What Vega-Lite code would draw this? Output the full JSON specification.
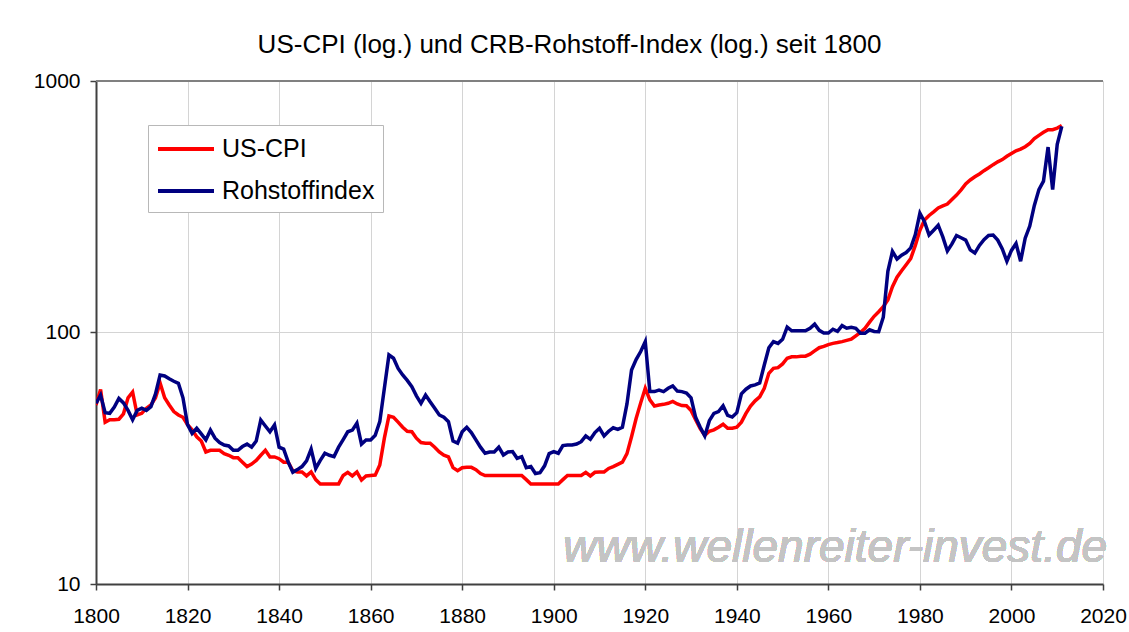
{
  "$schema": "https://vega.github.io/schema/vega-lite/v6.json",
  "width": 1007,
  "height": 503,
  "autosize": {"type": "none"},
  "padding": {"left": 96, "top": 81, "right": 26, "bottom": 48},
  "background": "white",
  "title": {"text": "US-CPI (log.) und CRB-Rohstoff-Index (log.) seit 1800", "fontSize": 26, "font": "Liberation Sans", "fontWeight": "normal", "color": "#000000", "anchor": "middle", "dx": -30, "offset": 12},
  "config": {"view": {"stroke": null}, "font": "Liberation Sans"},
  "data": {"values": [
    {"year":1800,"US-CPI":51.5,"Rohstoffindex":52.3},{"year":1801,"US-CPI":59.4,"Rohstoffindex":56.4},{"year":1802,"US-CPI":44,"Rohstoffindex":48},{"year":1803,"US-CPI":45,"Rohstoffindex":47.7},{"year":1804,"US-CPI":45,"Rohstoffindex":50.5},{"year":1805,"US-CPI":45.2,"Rohstoffindex":54.7},{"year":1806,"US-CPI":47.5,"Rohstoffindex":52.5},{"year":1807,"US-CPI":55,"Rohstoffindex":49},{"year":1808,"US-CPI":58,"Rohstoffindex":45},{"year":1809,"US-CPI":47,"Rohstoffindex":49},
    {"year":1810,"US-CPI":47.7,"Rohstoffindex":50},{"year":1811,"US-CPI":50,"Rohstoffindex":49},{"year":1812,"US-CPI":51.5,"Rohstoffindex":50.7},{"year":1813,"US-CPI":55,"Rohstoffindex":57},{"year":1814,"US-CPI":63,"Rohstoffindex":67.8},{"year":1815,"US-CPI":55,"Rohstoffindex":67.2},{"year":1816,"US-CPI":51.5,"Rohstoffindex":65.5},{"year":1817,"US-CPI":48.5,"Rohstoffindex":64},{"year":1818,"US-CPI":47,"Rohstoffindex":62.8},{"year":1819,"US-CPI":46,"Rohstoffindex":55},
    {"year":1820,"US-CPI":43,"Rohstoffindex":43},{"year":1821,"US-CPI":41,"Rohstoffindex":39.7},{"year":1822,"US-CPI":38.5,"Rohstoffindex":41.6},{"year":1823,"US-CPI":37,"Rohstoffindex":39.5},{"year":1824,"US-CPI":33.5,"Rohstoffindex":37.4},{"year":1825,"US-CPI":34,"Rohstoffindex":40.9},{"year":1826,"US-CPI":34,"Rohstoffindex":38},{"year":1827,"US-CPI":34,"Rohstoffindex":36.5},{"year":1828,"US-CPI":33,"Rohstoffindex":35.7},{"year":1829,"US-CPI":32.5,"Rohstoffindex":35.4},
    {"year":1830,"US-CPI":31.8,"Rohstoffindex":34},{"year":1831,"US-CPI":31.8,"Rohstoffindex":34},{"year":1832,"US-CPI":30.5,"Rohstoffindex":35.2},{"year":1833,"US-CPI":29.3,"Rohstoffindex":36},{"year":1834,"US-CPI":30,"Rohstoffindex":35},{"year":1835,"US-CPI":31,"Rohstoffindex":37},{"year":1836,"US-CPI":32.5,"Rohstoffindex":44.9},{"year":1837,"US-CPI":34,"Rohstoffindex":42.5},{"year":1838,"US-CPI":32,"Rohstoffindex":40.3},{"year":1839,"US-CPI":32,"Rohstoffindex":42.9},
    {"year":1840,"US-CPI":31.5,"Rohstoffindex":35},{"year":1841,"US-CPI":30.5,"Rohstoffindex":34.4},{"year":1842,"US-CPI":30.5,"Rohstoffindex":30.5},{"year":1843,"US-CPI":28.2,"Rohstoffindex":27.8},{"year":1844,"US-CPI":27.9,"Rohstoffindex":28.5},{"year":1845,"US-CPI":27.9,"Rohstoffindex":29.3},{"year":1846,"US-CPI":26.9,"Rohstoffindex":30.9},{"year":1847,"US-CPI":27.9,"Rohstoffindex":34.4},{"year":1848,"US-CPI":26,"Rohstoffindex":28.8},{"year":1849,"US-CPI":25,"Rohstoffindex":31},
    {"year":1850,"US-CPI":25,"Rohstoffindex":33.1},{"year":1851,"US-CPI":25,"Rohstoffindex":32.5},{"year":1852,"US-CPI":25,"Rohstoffindex":32.1},{"year":1853,"US-CPI":25,"Rohstoffindex":35},{"year":1854,"US-CPI":27,"Rohstoffindex":37.5},{"year":1855,"US-CPI":27.8,"Rohstoffindex":40.3},{"year":1856,"US-CPI":26.9,"Rohstoffindex":40.9},{"year":1857,"US-CPI":27.9,"Rohstoffindex":43.6},{"year":1858,"US-CPI":25.9,"Rohstoffindex":36},{"year":1859,"US-CPI":26.9,"Rohstoffindex":37.4},
    {"year":1860,"US-CPI":27,"Rohstoffindex":37.4},{"year":1861,"US-CPI":27.1,"Rohstoffindex":39},{"year":1862,"US-CPI":29.7,"Rohstoffindex":44.2},{"year":1863,"US-CPI":38,"Rohstoffindex":60},{"year":1864,"US-CPI":46.6,"Rohstoffindex":81.4},{"year":1865,"US-CPI":46,"Rohstoffindex":79},{"year":1866,"US-CPI":44,"Rohstoffindex":72},{"year":1867,"US-CPI":42,"Rohstoffindex":67.8},{"year":1868,"US-CPI":40.5,"Rohstoffindex":64.5},{"year":1869,"US-CPI":40.3,"Rohstoffindex":60.9},
    {"year":1870,"US-CPI":38,"Rohstoffindex":56},{"year":1871,"US-CPI":36.5,"Rohstoffindex":52.3},{"year":1872,"US-CPI":36.3,"Rohstoffindex":56.4},{"year":1873,"US-CPI":36.3,"Rohstoffindex":53},{"year":1874,"US-CPI":35,"Rohstoffindex":50},{"year":1875,"US-CPI":33.5,"Rohstoffindex":47},{"year":1876,"US-CPI":32.5,"Rohstoffindex":46},{"year":1877,"US-CPI":32,"Rohstoffindex":44.2},{"year":1878,"US-CPI":29,"Rohstoffindex":37},{"year":1879,"US-CPI":28.2,"Rohstoffindex":36.3},
    {"year":1880,"US-CPI":29,"Rohstoffindex":40.3},{"year":1881,"US-CPI":29.1,"Rohstoffindex":42},{"year":1882,"US-CPI":29.1,"Rohstoffindex":40},{"year":1883,"US-CPI":28.5,"Rohstoffindex":37.4},{"year":1884,"US-CPI":27.5,"Rohstoffindex":35},{"year":1885,"US-CPI":27,"Rohstoffindex":33.1},{"year":1886,"US-CPI":27,"Rohstoffindex":33.5},{"year":1887,"US-CPI":27,"Rohstoffindex":33.5},{"year":1888,"US-CPI":27,"Rohstoffindex":35},{"year":1889,"US-CPI":27,"Rohstoffindex":32.6},
    {"year":1890,"US-CPI":27,"Rohstoffindex":33.5},{"year":1891,"US-CPI":27,"Rohstoffindex":33.6},{"year":1892,"US-CPI":27,"Rohstoffindex":31.6},{"year":1893,"US-CPI":27,"Rohstoffindex":32.1},{"year":1894,"US-CPI":26,"Rohstoffindex":29},{"year":1895,"US-CPI":25,"Rohstoffindex":29.3},{"year":1896,"US-CPI":25,"Rohstoffindex":27.5},{"year":1897,"US-CPI":25,"Rohstoffindex":27.7},{"year":1898,"US-CPI":25,"Rohstoffindex":29.5},{"year":1899,"US-CPI":25,"Rohstoffindex":33},
    {"year":1900,"US-CPI":25,"Rohstoffindex":33.6},{"year":1901,"US-CPI":25,"Rohstoffindex":33.1},{"year":1902,"US-CPI":26,"Rohstoffindex":35.5},{"year":1903,"US-CPI":27,"Rohstoffindex":35.7},{"year":1904,"US-CPI":27,"Rohstoffindex":35.7},{"year":1905,"US-CPI":27,"Rohstoffindex":36},{"year":1906,"US-CPI":27,"Rohstoffindex":36.8},{"year":1907,"US-CPI":27.8,"Rohstoffindex":38.8},{"year":1908,"US-CPI":26.9,"Rohstoffindex":37.6},{"year":1909,"US-CPI":27.8,"Rohstoffindex":40},
    {"year":1910,"US-CPI":27.9,"Rohstoffindex":41.6},{"year":1911,"US-CPI":27.9,"Rohstoffindex":38.8},{"year":1912,"US-CPI":28.8,"Rohstoffindex":40.5},{"year":1913,"US-CPI":29.3,"Rohstoffindex":41.8},{"year":1914,"US-CPI":29.9,"Rohstoffindex":41.2},{"year":1915,"US-CPI":30.5,"Rohstoffindex":42},{"year":1916,"US-CPI":33,"Rohstoffindex":52},{"year":1917,"US-CPI":38.5,"Rohstoffindex":70.9},{"year":1918,"US-CPI":45.5,"Rohstoffindex":78},{"year":1919,"US-CPI":52.5,"Rohstoffindex":84},
    {"year":1920,"US-CPI":60,"Rohstoffindex":92},{"year":1921,"US-CPI":54,"Rohstoffindex":58.2},{"year":1922,"US-CPI":51,"Rohstoffindex":58.2},{"year":1923,"US-CPI":51.5,"Rohstoffindex":59},{"year":1924,"US-CPI":51.8,"Rohstoffindex":58.2},{"year":1925,"US-CPI":52.3,"Rohstoffindex":60},{"year":1926,"US-CPI":53.2,"Rohstoffindex":61.3},{"year":1927,"US-CPI":52,"Rohstoffindex":58.5},{"year":1928,"US-CPI":51.2,"Rohstoffindex":58.2},{"year":1929,"US-CPI":51.1,"Rohstoffindex":57.5},
    {"year":1930,"US-CPI":49,"Rohstoffindex":55},{"year":1931,"US-CPI":45,"Rohstoffindex":46},{"year":1932,"US-CPI":41.5,"Rohstoffindex":42},{"year":1933,"US-CPI":39,"Rohstoffindex":38.8},{"year":1934,"US-CPI":40.5,"Rohstoffindex":44.6},{"year":1935,"US-CPI":41,"Rohstoffindex":47.7},{"year":1936,"US-CPI":42,"Rohstoffindex":48.5},{"year":1937,"US-CPI":43.2,"Rohstoffindex":51.1},{"year":1938,"US-CPI":41.6,"Rohstoffindex":46.8},{"year":1939,"US-CPI":41.6,"Rohstoffindex":46.1},
    {"year":1940,"US-CPI":42,"Rohstoffindex":48},{"year":1941,"US-CPI":44,"Rohstoffindex":57},{"year":1942,"US-CPI":47.7,"Rohstoffindex":59.5},{"year":1943,"US-CPI":51,"Rohstoffindex":61.3},{"year":1944,"US-CPI":53.5,"Rohstoffindex":61.9},{"year":1945,"US-CPI":55.5,"Rohstoffindex":63},{"year":1946,"US-CPI":60,"Rohstoffindex":74.3},{"year":1947,"US-CPI":68.8,"Rohstoffindex":87},{"year":1948,"US-CPI":72,"Rohstoffindex":92},{"year":1949,"US-CPI":72.5,"Rohstoffindex":90.5},
    {"year":1950,"US-CPI":75,"Rohstoffindex":94},{"year":1951,"US-CPI":79,"Rohstoffindex":105},{"year":1952,"US-CPI":80,"Rohstoffindex":101.5},{"year":1953,"US-CPI":80,"Rohstoffindex":101.5},{"year":1954,"US-CPI":80.5,"Rohstoffindex":101.5},{"year":1955,"US-CPI":80.5,"Rohstoffindex":101.5},{"year":1956,"US-CPI":82,"Rohstoffindex":104},{"year":1957,"US-CPI":84.5,"Rohstoffindex":108},{"year":1958,"US-CPI":87,"Rohstoffindex":102},{"year":1959,"US-CPI":88,"Rohstoffindex":99.6},
    {"year":1960,"US-CPI":89.5,"Rohstoffindex":99.5},{"year":1961,"US-CPI":90.5,"Rohstoffindex":103},{"year":1962,"US-CPI":91.2,"Rohstoffindex":101},{"year":1963,"US-CPI":92,"Rohstoffindex":106.5},{"year":1964,"US-CPI":93,"Rohstoffindex":104},{"year":1965,"US-CPI":94,"Rohstoffindex":105},{"year":1966,"US-CPI":97,"Rohstoffindex":104},{"year":1967,"US-CPI":100,"Rohstoffindex":99.4},{"year":1968,"US-CPI":104,"Rohstoffindex":99.4},{"year":1969,"US-CPI":110,"Rohstoffindex":102.5},
    {"year":1970,"US-CPI":116,"Rohstoffindex":101},{"year":1971,"US-CPI":121,"Rohstoffindex":100.8},{"year":1972,"US-CPI":126.7,"Rohstoffindex":115},{"year":1973,"US-CPI":134.6,"Rohstoffindex":175},{"year":1974,"US-CPI":152,"Rohstoffindex":210},{"year":1975,"US-CPI":166,"Rohstoffindex":196},{"year":1976,"US-CPI":176,"Rohstoffindex":203},{"year":1977,"US-CPI":186,"Rohstoffindex":208},{"year":1978,"US-CPI":197,"Rohstoffindex":217},{"year":1979,"US-CPI":222,"Rohstoffindex":245},
    {"year":1980,"US-CPI":255,"Rohstoffindex":298},{"year":1981,"US-CPI":280,"Rohstoffindex":276},{"year":1982,"US-CPI":292,"Rohstoffindex":244},{"year":1983,"US-CPI":302,"Rohstoffindex":255},{"year":1984,"US-CPI":313,"Rohstoffindex":267},{"year":1985,"US-CPI":319,"Rohstoffindex":240},{"year":1986,"US-CPI":324,"Rohstoffindex":211},{"year":1987,"US-CPI":338,"Rohstoffindex":225},{"year":1988,"US-CPI":352,"Rohstoffindex":243},{"year":1989,"US-CPI":369,"Rohstoffindex":238},
    {"year":1990,"US-CPI":390,"Rohstoffindex":233},{"year":1991,"US-CPI":404,"Rohstoffindex":213},{"year":1992,"US-CPI":416,"Rohstoffindex":207},{"year":1993,"US-CPI":427,"Rohstoffindex":222},{"year":1994,"US-CPI":440,"Rohstoffindex":234},{"year":1995,"US-CPI":452,"Rohstoffindex":243},{"year":1996,"US-CPI":465,"Rohstoffindex":244},{"year":1997,"US-CPI":477,"Rohstoffindex":233},{"year":1998,"US-CPI":487,"Rohstoffindex":215},{"year":1999,"US-CPI":502,"Rohstoffindex":192},
    {"year":2000,"US-CPI":515,"Rohstoffindex":212},{"year":2001,"US-CPI":528,"Rohstoffindex":226},{"year":2002,"US-CPI":536,"Rohstoffindex":192},{"year":2003,"US-CPI":548,"Rohstoffindex":237},{"year":2004,"US-CPI":565,"Rohstoffindex":265},{"year":2005,"US-CPI":590,"Rohstoffindex":320},{"year":2006,"US-CPI":608,"Rohstoffindex":370},{"year":2007,"US-CPI":625,"Rohstoffindex":400},{"year":2008,"US-CPI":640,"Rohstoffindex":546},{"year":2009,"US-CPI":640,"Rohstoffindex":370},
    {"year":2010,"US-CPI":650,"Rohstoffindex":560},{"year":2011,"US-CPI":665,"Rohstoffindex":660}
  ]},
  "layer": [
    {
      "mark": {"type": "text", "font": "Liberation Sans", "fontStyle": "italic", "fontSize": 46, "color": "#c4c4c4", "align": "center", "baseline": "middle"},
      "encoding": {"x": {"datum": 1961.5, "type": "quantitative"}, "y": {"datum": 13.9, "type": "quantitative"}, "text": {"value": "www.wellenreiter-invest.de"}}
    },
    {
      "transform": [{"fold": ["US-CPI", "Rohstoffindex"], "as": ["series", "value"]}],
      "mark": {"type": "line", "strokeWidth": 3.5, "clip": true},
      "encoding": {
        "x": {"field": "year", "type": "quantitative", "scale": {"domain": [1800, 2020], "nice": false, "zero": false},
          "axis": {"values": [1800,1820,1840,1860,1880,1900,1920,1940,1960,1980,2000,2020], "format": "d", "title": null, "labelFontSize": 21, "labelFont": "Liberation Sans", "labelColor": "#000000", "labelFlush": false, "labelPadding": 15, "tickSize": 6, "tickWidth": 1.5, "tickColor": "#404040", "domainColor": "#404040", "domainWidth": 2, "grid": true, "gridColor": "#d4d4d4", "gridWidth": 1}},
        "y": {"field": "value", "type": "quantitative", "scale": {"type": "log", "domain": [10, 1000], "nice": false},
          "axis": {"values": [10, 100, 1000], "format": "d", "title": null, "labelFontSize": 21, "labelFont": "Liberation Sans", "labelColor": "#000000", "labelPadding": 10, "tickSize": 6, "tickWidth": 1.5, "tickColor": "#404040", "domainColor": "#404040", "domainWidth": 2, "grid": true, "gridColor": "#d4d4d4", "gridWidth": 1}},
        "color": {"field": "series", "type": "nominal", "scale": {"domain": ["US-CPI", "Rohstoffindex"], "range": ["#ff0000", "#000080"]},
          "legend": {"title": null, "orient": "none", "legendX": 52, "legendY": 44, "direction": "vertical", "fillColor": "white", "strokeColor": "#b8b8b8", "padding": 8, "labelFontSize": 25, "labelFont": "Liberation Sans", "labelColor": "#000000", "labelOffset": 34, "rowPadding": 13, "symbolType": "M-1,0L3,0", "symbolSize": 784, "symbolStrokeWidth": 4}}
      }
    },
    {
      "mark": {"type": "rule", "color": "#808080", "strokeWidth": 1.5},
      "encoding": {"y": {"datum": 1000, "type": "quantitative"}}
    }
  ]
}
